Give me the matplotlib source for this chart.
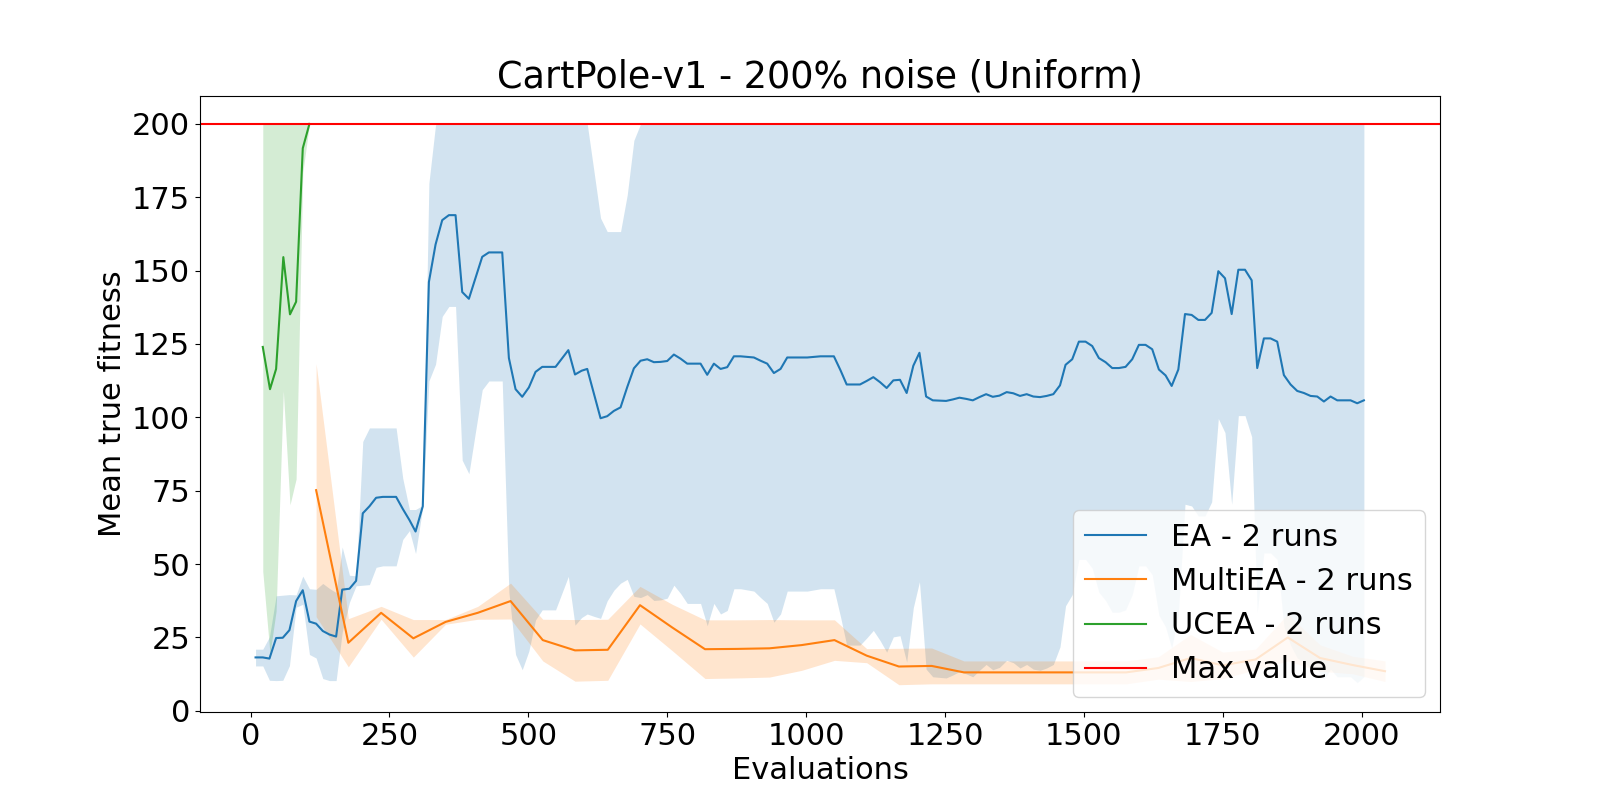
import matplotlib
matplotlib.use("Agg")
import matplotlib.pyplot as plt

# ---------------- data ----------------
ea_x = [9, 22, 34, 46, 58, 70, 82, 94, 106, 118, 130, 142, 154, 165, 178, 190,
        202, 214, 226, 238, 250, 262, 274, 286, 297, 310, 321, 333, 345, 357,
        369, 381, 393, 405, 417, 429, 441, 453, 465, 477, 489, 501, 513, 525,
        537, 549, 572, 584, 596, 606, 618, 630, 642, 654, 666, 678, 690, 702,
        714, 726, 738, 750, 762, 774, 786, 798, 810, 822, 834, 846, 858, 870,
        882, 894, 906, 918, 930, 942, 954, 966, 978, 990, 1002, 1014, 1026,
        1038, 1050, 1062, 1073, 1085, 1097, 1109, 1121, 1133, 1145, 1157, 1169,
        1181, 1193, 1204, 1216, 1228, 1240, 1252, 1264, 1276, 1288, 1300, 1312,
        1324, 1336, 1348, 1361, 1373, 1385, 1397, 1409, 1421, 1433, 1445, 1457,
        1467, 1479, 1491, 1503, 1515, 1527, 1539, 1551, 1563, 1575, 1587, 1599,
        1611, 1623, 1635, 1647, 1658, 1670, 1682, 1694, 1706, 1718, 1730, 1742,
        1754, 1766, 1778, 1790, 1802, 1812, 1824, 1836, 1848, 1860, 1872, 1884,
        1896, 1908, 1920, 1932, 1944, 1956, 1968, 1980, 1992, 2004]
ea_mean = [18.2, 18.2, 17.8, 24.8, 24.9, 27.5, 37.4, 41.1, 30.4, 29.7, 27.2, 26.0,
           25.3, 41.3, 41.6, 44.3, 67.3, 69.7, 72.6, 72.9, 72.9, 72.9, 68.8, 65.0,
           61.1, 69.7, 146.1, 158.9, 167.2, 168.9, 168.9, 142.7, 140.4, 147.6,
           154.7, 156.2, 156.2, 156.2, 120.2, 109.6, 107.0, 110.2, 115.5, 117.2,
           117.2, 117.2, 122.9, 114.6, 115.9, 116.5, 108.1, 99.7, 100.4, 102.2,
           103.4, 110.3, 116.7, 119.3, 119.8, 118.8, 118.9, 119.2, 121.4, 120.0,
           118.3, 118.3, 118.3, 114.5, 118.3, 116.5, 117.1, 120.8, 120.8, 120.6,
           120.4, 119.3, 118.3, 115.1, 116.5, 120.4, 120.4, 120.4, 120.4, 120.6,
           120.8, 120.8, 120.8, 116.0, 111.2, 111.2, 111.2, 112.4, 113.7, 112.0,
           110.0, 112.6, 112.8, 108.3, 117.6, 122.0, 107.1, 105.8, 105.7, 105.6,
           106.1, 106.7, 106.3, 105.8, 106.9, 107.9, 107.0, 107.4, 108.6, 108.2,
           107.3, 107.9, 107.1, 106.9, 107.3, 107.9, 110.9, 117.9, 119.8, 125.8,
           125.8, 124.3, 120.2, 118.8, 116.8, 116.8, 117.2, 119.8, 124.7, 124.7,
           123.2, 116.3, 114.3, 110.7, 116.3, 135.2, 134.9, 133.2, 133.2, 135.6,
           149.8, 147.4, 135.2, 150.3, 150.3, 146.7, 116.8, 126.9, 126.9, 125.8,
           114.4, 111.2, 109.0, 108.3, 107.3, 107.1, 105.4, 107.1, 105.8, 105.8,
           105.8, 104.8, 105.8]
ea_lower = [15.3, 15.3, 10.4, 10.3, 10.4, 15.4, 35.3, 36.3, 19.2, 18.0, 11.0, 10.3,
            10.3, 26.8, 37.0, 42.6, 42.8, 43.0, 48.9, 49.4, 49.4, 49.4, 58.4, 61.4,
            53.6, 69.4, 112.4, 118.1, 134.4, 137.8, 137.8, 85.4, 80.8, 95.2, 109.4,
            112.4, 112.4, 112.4, 40.4, 19.2, 14.0, 20.4, 31.0, 34.4, 34.4, 34.4,
            45.8, 29.2, 31.8, 33.0, 32.2, 31.5, 37.5, 41.1, 43.5, 44.8, 39.0, 38.6,
            39.6, 37.6, 37.8, 38.4, 42.8, 40.0, 36.6, 36.6, 36.6, 29.0, 36.6, 33.0,
            34.2, 41.6, 41.6, 41.2, 40.8, 38.6, 36.6, 30.2, 33.0, 40.8, 40.8, 40.8,
            40.8, 41.2, 41.6, 41.6, 41.6, 32.0, 22.4, 22.4, 22.4, 24.8, 27.4, 24.0,
            20.0, 25.2, 25.6, 16.6, 35.2, 44.0, 14.2, 11.6, 11.4, 11.2, 12.2, 13.4,
            12.6, 11.6, 13.8, 15.8, 14.0, 14.8, 17.2, 16.4, 14.6, 15.8, 14.2, 13.8,
            14.6, 15.8, 21.8, 35.8, 39.6, 51.6, 51.6, 48.6, 40.4, 37.6, 33.6, 33.6,
            34.4, 39.6, 49.4, 49.4, 46.4, 32.6, 28.6, 21.4, 32.6, 70.4, 69.8, 66.4,
            66.4, 71.2, 99.6, 94.8, 70.4, 100.6, 100.6, 93.4, 33.6, 53.8, 53.8,
            51.6, 28.8, 22.4, 18.0, 16.6, 14.6, 14.2, 10.8, 14.2, 11.6, 11.6, 11.6,
            9.6, 11.6]
ea_upper = [21.0, 21.0, 25.2, 39.2, 39.4, 39.6, 39.5, 45.9, 41.6, 41.4, 43.4, 41.7,
            40.3, 55.8, 46.2, 46.0, 91.8, 96.4, 96.4, 96.4, 96.4, 96.4, 79.2, 68.6,
            68.6, 70.0, 179.8, 199.7] + [200.0] * 22 + \
           [184.0, 167.9, 163.3, 163.3, 163.3, 175.8, 194.4] + [200.0] * 110

multi_x = [118, 176, 235, 293, 351, 409, 468, 526, 584, 643, 701, 759, 818, 876,
           934, 992, 1051, 1109, 1167, 1226, 1284, 1342, 1401, 1459, 1517, 1576,
           1634, 1692, 1750, 1809, 1867, 1925, 1984, 2042]
multi_mean = [75.2, 23.2, 33.4, 24.7, 30.3, 33.4, 37.4, 24.1, 20.6, 20.8, 36.0,
              28.4, 21.0, 21.1, 21.3, 22.4, 24.1, 18.8, 15.1, 15.3, 13.1, 13.1,
              13.1, 13.1, 13.1, 13.1, 14.6, 18.0, 15.5, 17.5, 25.0, 18.0, 15.6, 13.5]
multi_lower = [32.1, 15.0, 31.2, 18.3, 29.5, 31.2, 31.3, 17.0, 10.1, 10.4, 29.6,
               20.5, 11.0, 11.2, 11.5, 13.8, 17.2, 16.4, 8.9, 9.2, 9.2, 9.2, 9.2,
               9.2, 9.2, 9.2, 10.8, 10.0, 11.0, 14.0, 17.0, 13.5, 12.6, 10.0]
multi_upper = [118.3, 31.4, 35.6, 31.1, 31.1, 35.6, 43.5, 31.2, 31.1, 31.2, 42.4,
               36.3, 31.0, 31.0, 31.1, 31.0, 31.0, 21.2, 21.3, 21.4, 17.0, 17.0,
               17.0, 17.0, 17.0, 17.0, 18.4, 26.0, 20.0, 21.0, 33.0, 22.5, 18.6, 17.0]

ucea_x = [22, 35, 46, 59, 71, 82, 94, 106]
ucea_mean = [124.0, 109.6, 116.5, 154.6, 135.1, 139.4, 191.7, 200.0]
ucea_lower = [47.5, 19.5, 34.0, 109.0, 70.2, 79.0, 183.4, 200.0]
ucea_upper = [200.0, 200.0, 200.0, 200.0, 200.0, 200.0, 200.0, 200.0]

max_value = 200
labels = ["EA - 2 runs", "MultiEA - 2 runs", "UCEA - 2 runs", "Max value"]
title = "CartPole-v1 - 200% noise (Uniform)"

# ---------------- plot ----------------
plt.rcParams['font.family'] = ['DejaVu Sans']
plt.rcParams['font.size'] = 22

fig, ax = plt.subplots(figsize=(16, 8), dpi=100)
fig.subplots_adjust(left=0.125, right=0.9, bottom=0.11, top=0.88)

ax.fill_between(ea_x, ea_lower, ea_upper, color='C0', alpha=0.2, linewidth=0)
ax.plot(ea_x, ea_mean, color='C0', label=labels[0])
ax.fill_between(multi_x, multi_lower, multi_upper, color='C1', alpha=0.2, linewidth=0)
ax.plot(multi_x, multi_mean, color='C1', label=labels[1])
ax.fill_between(ucea_x, ucea_lower, ucea_upper, color='C2', alpha=0.2, linewidth=0)
ax.plot(ucea_x, ucea_mean, color='C2', label=labels[2])
ax.axhline(max_value, color='red', label=labels[3])

ax.set_xlim(-91, 2141)
ax.set_ylim(-0.4, 209.5)
ax.set_xticks([0, 250, 500, 750, 1000, 1250, 1500, 1750, 2000])
ax.set_yticks([0, 25, 50, 75, 100, 125, 150, 175, 200])
ax.set_title(title)
ax.set_xlabel("Evaluations")
ax.set_ylabel("Mean true fitness")
ax.legend(loc='lower right')

fig.savefig("out.png", dpi=100)
